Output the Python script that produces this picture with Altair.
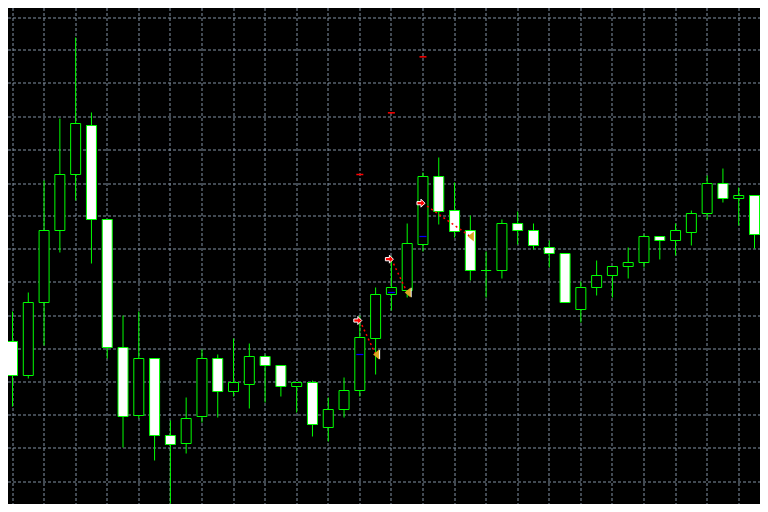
import altair as alt
import pandas as pd

# ---- candle data (bar index, OHLC) ----
opens = [1.10513, 1.10411, 1.10630, 1.10846, 1.11014, 1.11161, 1.10879, 1.10495, 1.10291, 1.10462,
         1.10231, 1.10207, 1.10288, 1.10462, 1.10363, 1.10384, 1.10468, 1.10441, 1.10378, 1.10390,
         1.10255, 1.10309, 1.10366, 1.10522, 1.10654, 1.10666, 1.10804, 1.11008, 1.10906, 1.10846,
         1.10726, 1.10726, 1.10867, 1.10846, 1.10795, 1.10777, 1.10609, 1.10675, 1.10711, 1.10738,
         1.10750, 1.10828, 1.10816, 1.10840, 1.10897, 1.10987, 1.10942, 1.10951]
highs = [1.10603, 1.10660, 1.10996, 1.11182, 1.11425, 1.11200, 1.10879, 1.10591, 1.10603, 1.10462,
         1.10276, 1.10345, 1.10489, 1.10474, 1.10522, 1.10507, 1.10474, 1.10441, 1.10390, 1.10396,
         1.10345, 1.10405, 1.10591, 1.10675, 1.10768, 1.10867, 1.11020, 1.11065, 1.10990, 1.10891,
         1.10783, 1.10879, 1.10903, 1.10867, 1.10816, 1.10777, 1.10693, 1.10756, 1.10738, 1.10795,
         1.10834, 1.10828, 1.10867, 1.10906, 1.11011, 1.11032, 1.10975, 1.10951]
lows = [1.10318, 1.10402, 1.10501, 1.10780, 1.10936, 1.10747, 1.10462, 1.10195, 1.10282, 1.10156,
        1.10027, 1.10177, 1.10270, 1.10285, 1.10348, 1.10312, 1.10330, 1.10348, 1.10300, 1.10228,
        1.10213, 1.10285, 1.10348, 1.10414, 1.10606, 1.10645, 1.10783, 1.10864, 1.10825, 1.10696,
        1.10645, 1.10702, 1.10804, 1.10789, 1.10735, 1.10630, 1.10570, 1.10651, 1.10645, 1.10702,
        1.10735, 1.10759, 1.10771, 1.10801, 1.10879, 1.10930, 1.10861, 1.10792]
closes = [1.10411, 1.10630, 1.10846, 1.11014, 1.11167, 1.10879, 1.10495, 1.10288, 1.10462, 1.10231,
          1.10204, 1.10282, 1.10462, 1.10363, 1.10390, 1.10468, 1.10441, 1.10378, 1.10390, 1.10264,
          1.10309, 1.10366, 1.10525, 1.10654, 1.10675, 1.10807, 1.11008, 1.10903, 1.10843, 1.10726,
          1.10726, 1.10867, 1.10846, 1.10801, 1.10777, 1.10630, 1.10675, 1.10711, 1.10738, 1.10750,
          1.10828, 1.10816, 1.10846, 1.10897, 1.10987, 1.10942, 1.10951, 1.10834]

# ---- trades ----
trade_open_bar = [22, 24, 26]
trade_open_price = [1.10576, 1.10760, 1.10928]
trade_close_bar = [23, 25, 29]
trade_close_price = [1.10474, 1.10660, 1.10828]
trade_stop = [1.11014, 1.11199, 1.11367]
trade_target = [1.10474, 1.10660, 1.10828]

# ---- grid levels ----
grid_prices = [1.11485, 1.11386, 1.11287, 1.11188, 1.11089, 1.10987, 1.10888, 1.10789,
               1.10690, 1.10591, 1.10492, 1.10390, 1.10291, 1.10192, 1.10093]
grid_bars = list(range(0, 48, 2))

df = pd.DataFrame({"i": list(range(len(opens))), "open": opens, "high": highs,
                   "low": lows, "close": closes})
df["dir"] = ["bear" if c < o else "bull" for o, c in zip(opens, closes)]

tr = pd.DataFrame({"ob": trade_open_bar, "op": trade_open_price, "cb": trade_close_bar,
                   "cp": trade_close_price, "sl": trade_stop, "tp": trade_target})

GRID = "#8292a4"
GREEN = "#00ff00"
xs = alt.Scale(domain=[0.03125, 47.03125], nice=False, zero=False)
ys = alt.Scale(domain=[1.100255, 1.115135], nice=False, zero=False)

x_axis = alt.Axis(values=grid_bars, labels=False, ticks=False, domain=False,
                  title=None, grid=True, gridColor=GRID, gridDash=[3, 2],
                  gridWidth=1, gridOpacity=1, translate=0)
y_axis = alt.Axis(values=grid_prices, labels=False, ticks=False, domain=False,
                  title=None, grid=True, gridColor=GRID, gridDash=[3, 2],
                  gridWidth=1, gridOpacity=1, translate=0)


def X(f):
    return alt.X(f, type="quantitative", scale=xs, axis=x_axis)


def Y(f):
    return alt.Y(f, type="quantitative", scale=ys, axis=y_axis)


base = alt.Chart(df)

wicks = base.mark_rule(color=GREEN, strokeWidth=1).encode(
    x=X("i"), y=Y("low"), y2="high")

bodies = base.mark_bar(size=10, stroke=GREEN, strokeWidth=1, opacity=1).encode(
    x=X("i"), y=Y("open"), y2="close",
    fill=alt.Fill("dir:N", scale=alt.Scale(domain=["bull", "bear"], range=["#000000", "#ffffff"]),
                  legend=None))

tb = alt.Chart(tr)
tp_marks = tb.mark_point(shape="M -1 0 L 1 0", size=49, filled=False, stroke="#0000ff",
                         strokeWidth=1.2, opacity=1).encode(x=X("ob"), y=Y("tp"))
sl_marks = tb.mark_point(shape="M -1 0 L 1 0", size=49, filled=False, stroke="#ff0000",
                         strokeWidth=1.5, opacity=1).encode(x=X("ob"), y=Y("sl"))
lines = tb.mark_rule(color="#ff0000", strokeWidth=1.5, strokeDash=[2, 3]).encode(
    x=X("ob"), y=Y("op"), x2="cb", y2="cp")
arrows = tb.mark_point(shape="M -1 -0.4 L 0 -0.4 L 0 -1 L 1 0 L 0 1 L 0 0.4 L -1 0.4 Z",
                       size=64, filled=True, fill="#ff0000", stroke="#ffffff", strokeWidth=1,
                       opacity=1, xOffset=-2).encode(x=X("ob"), y=Y("op"))
tri_w = tb.mark_point(shape="M 0.6 -1 L 0.6 1 L -0.6 0 Z", size=100, filled=True,
                      fill="#ffffff", strokeWidth=0, opacity=1, xOffset=1.5).encode(
    x=X("cb"), y=Y("cp"))
tri = tb.mark_point(shape="M 0.6 -1 L 0.6 1 L -0.6 0 Z", size=100, filled=True,
                    fill="#daa520", strokeWidth=0, opacity=1, xOffset=0.5).encode(
    x=X("cb"), y=Y("cp"))

chart = alt.layer(wicks, bodies, tp_marks, lines, sl_marks, arrows, tri_w, tri).properties(
    width=752, height=496, background="#000000", padding=0,
    autosize=alt.AutoSizeParams(type="none"),
).configure_view(fill="#000000", stroke="transparent")

chart.save("out.html", embed_options={"renderer": "svg", "actions": False})
